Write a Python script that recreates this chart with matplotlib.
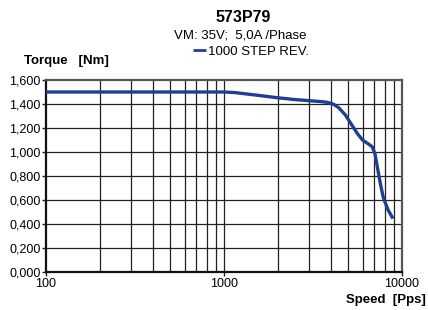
import numpy as np
import matplotlib.pyplot as plt
from matplotlib.ticker import FixedLocator, FuncFormatter, NullLocator

plt.rcParams['font.family'] = ['Liberation Sans', 'DejaVu Sans']

# torque curve (speed in pps, torque in Nm)
speed = [100, 300, 700, 1000, 1150, 1500, 2000, 2500, 3000, 3500, 3800,
         4100, 4400, 4800, 5200, 5600, 6000, 6500, 6800, 7050, 7300,
         7550, 7850, 8350, 8900]
torque = [1.500, 1.500, 1.500, 1.500, 1.495, 1.475, 1.452, 1.437, 1.428,
          1.420, 1.414, 1.400, 1.370, 1.310, 1.230, 1.156, 1.100, 1.065,
          1.044, 0.985, 0.860, 0.740, 0.620, 0.517, 0.445]

y_ticks = [0.0, 0.2, 0.4, 0.6, 0.8, 1.0, 1.2, 1.4, 1.6]
x_labels = [100, 1000, 10000]
x_grid = [200, 300, 400, 500, 600, 700, 800, 900,
          2000, 3000, 4000, 5000, 6000, 7000, 8000, 9000]

fig = plt.figure(figsize=(4.28, 3.10), dpi=100)
ax = fig.add_axes([46 / 428, 38 / 310, 356 / 428, 192 / 310])

ax.set_xscale('log')
ax.set_xlim(100, 10000)
ax.set_ylim(0, 1.6)

# grid lines
for xv in x_grid + [1000]:
    ax.axvline(xv, color='#222222', lw=0.9, zorder=1)
for yv in y_ticks[1:-1]:
    ax.axhline(yv, color='#222222', lw=0.9, zorder=1)

ax.plot(speed, torque, color='#1f3f93', lw=2.4, solid_capstyle='butt',
        zorder=3, label='1000 STEP REV.')

ax.xaxis.set_major_locator(FixedLocator(x_labels))
ax.xaxis.set_minor_locator(NullLocator())
ax.xaxis.set_major_formatter(FuncFormatter(lambda v, p: '%d' % v))
ax.yaxis.set_major_locator(FixedLocator(y_ticks))
ax.yaxis.set_major_formatter(FuncFormatter(lambda v, p: ('%.3f' % v).replace('.', ',')))
ax.tick_params(axis='both', labelsize=9, length=3, width=1, color='#222222', pad=1)

for side in ['left', 'bottom']:
    ax.spines[side].set_linewidth(1.6)
    ax.spines[side].set_color('#111111')
for side in ['top', 'right']:
    ax.spines[side].set_linewidth(1.6)
    ax.spines[side].set_color('#555555')

# titles and labels
fig.text(243 / 428, 1 - 17 / 310, '573P79', ha='center', va='center',
         fontsize=11.5, fontweight='bold')
fig.text(240 / 428, 1 - 36 / 310, 'VM: 35V;  5,0A /Phase', ha='center',
         va='center', fontsize=9.5)
leg = fig.legend(loc='center', bbox_to_anchor=(251 / 428, 1 - 52 / 310),
                 frameon=False, fontsize=9.5, handlelength=1.0,
                 handletextpad=0.1, borderpad=0)
leg.get_lines()[0].set_linewidth(2)
fig.text(24 / 428, 1 - 61 / 310, 'Torque   [Nm]', ha='left', va='center',
         fontsize=9.5, fontweight='bold')
fig.text(426 / 428, 1 - 300 / 310, 'Speed  [Pps]', ha='right', va='center',
         fontsize=9.5, fontweight='bold')

fig.savefig('out.png', dpi=100)
